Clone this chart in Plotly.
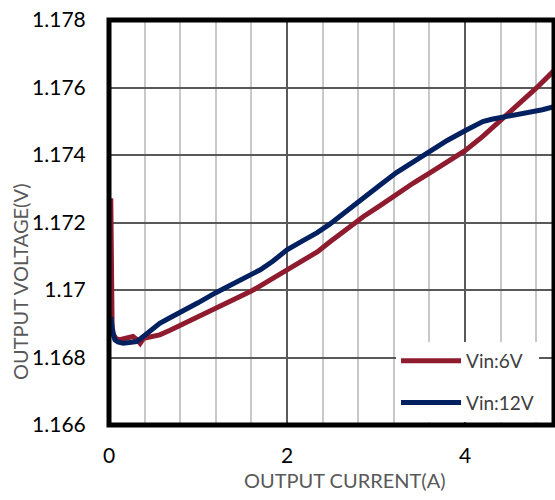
import plotly.graph_objects as go

# Load regulation: output voltage vs output current
current_6v = [0.02, 0.022, 0.025, 0.035, 0.05, 0.08, 0.12, 0.2, 0.27, 0.32, 0.35, 0.39, 0.46,
              0.57, 0.68, 0.8, 0.9, 1.0, 1.1, 1.2, 1.3, 1.4, 1.5, 1.6, 1.7, 1.8, 1.9, 2.0,
              2.17, 2.34, 2.48, 2.66, 2.86, 3.05, 3.23, 3.42, 3.61, 3.8, 4.0, 4.2, 4.43,
              4.6, 4.8, 5.0]
voltage_6v = [1.17272, 1.1715, 1.1697, 1.1689, 1.16868, 1.16856, 1.16853, 1.16856, 1.16862,
              1.16852, 1.16842, 1.16857, 1.1686, 1.16867, 1.1688, 1.16895, 1.16907, 1.1692,
              1.16932, 1.16945, 1.16957, 1.1697, 1.16983, 1.16997, 1.17012, 1.17028,
              1.17043, 1.17058, 1.17085, 1.17113, 1.17142, 1.17178, 1.17218, 1.17251,
              1.17284, 1.17317, 1.17348, 1.17379, 1.17413, 1.17455, 1.1751, 1.17548,
              1.17598, 1.1765]

current_12v = [0.02, 0.025, 0.03, 0.045, 0.067, 0.1, 0.16, 0.22, 0.31, 0.35, 0.45, 0.57,
               0.68, 0.8, 1.0, 1.2, 1.4, 1.6, 1.7, 1.84, 1.96, 2.0, 2.17, 2.34, 2.48, 2.66,
               2.86, 3.05, 3.23, 3.42, 3.61, 3.8, 4.0, 4.1, 4.2, 4.3, 4.43, 4.6, 4.73, 4.87,
               5.0]
voltage_12v = [1.1692, 1.1691, 1.16895, 1.1687, 1.16852, 1.16846, 1.16842, 1.16845, 1.16847,
               1.16855, 1.16878, 1.16901, 1.16917, 1.16933, 1.16962, 1.16992, 1.17018,
               1.17045, 1.1706, 1.17085, 1.1711, 1.17119, 1.17145, 1.1717, 1.17195, 1.17233,
               1.17274, 1.17312, 1.17348, 1.17381, 1.17412, 1.17443, 1.17472, 1.17487,
               1.17499, 1.17506, 1.17512, 1.17519, 1.17525, 1.17534, 1.17543]

y_ticks = [1.166, 1.168, 1.17, 1.172, 1.174, 1.176, 1.178]
y_tick_text = ["1.166", "1.168", "1.17", "1.172", "1.174", "1.176", "1.178"]
x_ticks = [0, 2, 4]
x_tick_text = ["0", "2", "4"]

RED = "#8E1B2E"
NAVY = "#002060"
FONT = "Lato"

fig = go.Figure()
fig.add_trace(go.Scatter(x=current_6v, y=voltage_6v, mode="lines", name="Vin:6V",
                         legendgroup="a", line=dict(color=RED, width=5)))
fig.add_trace(go.Scatter(x=current_12v, y=voltage_12v, mode="lines", name="Vin:12V",
                         legendgroup="b", line=dict(color=NAVY, width=5)))

fig.update_layout(
    width=555, height=500,
    margin=dict(l=109, r=1, t=20, b=75),
    paper_bgcolor="white", plot_bgcolor="white",
    font=dict(family=FONT, size=21, color="black"),
    showlegend=True,
    legend=dict(x=0.645, y=0.205, xanchor="left", yanchor="top",
                bgcolor="white", borderwidth=0,
                font=dict(family=FONT, size=19, color="#404040"),
                tracegroupgap=14, itemwidth=60),
    xaxis=dict(range=[0, 5], tickvals=x_ticks, ticktext=x_tick_text,
               showgrid=True, gridcolor="#595959", gridwidth=1.5,
               minor=dict(dtick=0.4, tick0=0, showgrid=True, gridcolor="#C8C8C8",
                          gridwidth=1.5),
               zeroline=False, showline=False,
               ticks="outside", ticklen=12, tickcolor="rgba(0,0,0,0)",
               tickfont=dict(family=FONT, size=21, color="black")),
    yaxis=dict(range=[1.166, 1.178], tickvals=y_ticks, ticktext=y_tick_text,
               showgrid=True, gridcolor="#595959", gridwidth=1.5,
               zeroline=False, showline=False,
               ticks="outside", ticklen=18, tickcolor="rgba(0,0,0,0)",
               tickfont=dict(family=FONT, size=21, color="black")),
    shapes=[dict(type="rect", xref="paper", yref="paper", x0=0, x1=1, y0=0, y1=1,
                 line=dict(color="black", width=5), layer="above")],
    annotations=[
        dict(text="OUTPUT CURRENT(A)", xref="paper", yref="paper", x=0.53, y=-0.136,
             xanchor="center", yanchor="middle", showarrow=False,
             font=dict(family=FONT, size=20, color="#595959")),
        dict(text="OUTPUT VOLTAGE(V)", xref="paper", yref="paper", x=-0.2, y=0.353,
             xanchor="center", yanchor="middle", showarrow=False, textangle=-90,
             font=dict(family=FONT, size=20, color="#595959")),
    ],
)

fig.write_html("out.html")
